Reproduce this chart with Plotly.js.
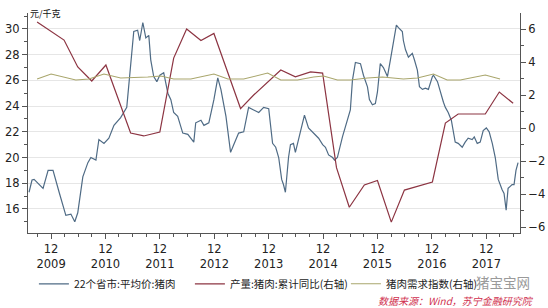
<!DOCTYPE html>
<html>
<head>
<meta charset="utf-8">
<script src="https://cdn.plot.ly/plotly-3.0.1.min.js"></script>
<style>html,body{margin:0;padding:0;background:#fff;}#chart{width:548px;height:308px;}</style>
</head>
<body>
<div id="chart"></div>
<script>
// 22个省市:平均价:猪肉 (左轴, 元/千克)
const priceDates = ["2009-07-06","2009-07-26","2009-08-09","2009-10-08","2009-11-11","2009-12-14","2010-01-24","2010-03-10","2010-04-13","2010-05-09","2010-05-29","2010-07-02","2010-08-05","2010-08-25","2010-09-28","2010-10-18","2010-11-21","2010-12-24","2011-01-27","2011-03-13","2011-04-23","2011-05-19","2011-06-09","2011-07-05","2011-07-19","2011-08-09","2011-08-29","2011-09-18","2011-10-01","2011-10-21","2011-11-11","2011-12-01","2011-12-27","2012-01-24","2012-02-13","2012-03-03","2012-03-30","2012-05-03","2012-06-06","2012-07-16","2012-07-29","2012-09-02","2012-09-22","2012-10-25","2012-11-28","2012-12-24","2013-01-14","2013-02-17","2013-03-20","2013-04-10","2013-05-13","2013-06-16","2013-07-19","2013-08-22","2013-09-25","2013-10-28","2013-12-01","2013-12-27","2014-01-17","2014-02-06","2014-02-26","2014-03-10","2014-03-23","2014-04-13","2014-04-26","2014-05-16","2014-05-29","2014-06-19","2014-07-15","2014-07-29","2014-08-25","2014-09-28","2014-11-01","2014-11-28","2014-12-17","2015-01-07","2015-02-03","2015-02-16","2015-03-07","2015-04-10","2015-05-13","2015-06-02","2015-06-16","2015-07-06","2015-08-09","2015-08-29","2015-09-25","2015-10-08","2015-10-28","2015-11-17","2015-12-01","2015-12-20","2016-01-10","2016-02-06","2016-02-26","2016-03-17","2016-04-06","2016-04-20","2016-05-16","2016-05-23","2016-06-06","2016-06-26","2016-07-22","2016-08-05","2016-08-25","2016-09-08","2016-09-28","2016-10-18","2016-11-07","2016-12-04","2016-12-11","2017-01-07","2017-01-27","2017-02-16","2017-03-01","2017-03-20","2017-04-10","2017-04-23","2017-05-06","2017-05-26","2017-06-22","2017-07-12","2017-08-01","2017-08-28","2017-09-11","2017-10-01","2017-10-21","2017-11-10","2017-12-01","2017-12-20","2018-01-10","2018-01-30","2018-02-19","2018-03-17","2018-03-30","2018-04-13","2018-04-26","2018-05-23","2018-06-05","2018-06-18","2018-07-02"];
const priceValues = [17.3,18.25,18.3,17.6,19.0,19.0,17.3,15.5,15.6,15.0,15.7,18.5,19.6,20.0,19.8,21.4,21.1,21.5,22.5,23.1,23.9,26.9,29.8,29.9,29.1,30.5,29.3,29.5,27.6,26.3,25.9,26.4,26.6,25.0,24.5,23.5,23.2,21.9,21.8,21.2,22.7,22.9,22.5,22.7,24.5,26.2,25.3,23.2,20.4,21.0,21.9,22.0,23.9,23.7,23.5,23.9,23.8,21.1,20.8,20.0,18.3,17.9,17.3,20.0,21.0,21.1,20.4,21.4,22.5,23.3,22.3,21.9,21.5,21.0,20.8,20.2,20.0,19.8,20.0,21.6,22.9,23.7,26.0,27.4,27.3,26.4,25.5,24.5,24.1,24.2,25.1,27.3,27.0,26.3,27.6,28.9,30.3,30.1,29.8,29.1,28.4,27.8,28.1,27.6,26.8,25.5,25.3,25.4,25.3,26.3,26.4,25.9,25.0,24.3,23.9,23.5,22.9,21.9,21.2,21.1,20.8,21.2,21.5,21.4,21.6,21.1,21.2,22.1,22.3,22.0,21.1,20.0,18.3,17.5,17.2,15.9,17.6,17.9,17.9,19.0,19.6];

// 产量:猪肉:累计同比 (右轴, %)
const outputDates = ["2009-08-29","2010-02-26","2010-05-29","2010-08-31","2010-12-04","2011-05-19","2011-08-15","2011-12-01","2012-03-03","2012-05-29","2012-09-02","2012-11-28","2013-05-26","2013-08-22","2014-02-20","2014-05-29","2014-09-08","2014-11-28","2015-03-01","2015-05-26","2015-09-04","2015-12-01","2016-03-03","2016-05-30","2016-12-04","2017-03-01","2017-05-26","2017-11-24","2018-02-26","2018-05-30"];
const outputValues = [6.42,5.33,3.70,2.85,3.82,-0.30,-0.48,-0.24,4.24,6.0,5.30,5.73,1.18,2.0,3.52,3.1,3.4,3.33,-2.4,-4.8,-3.45,-3.18,-5.7,-3.76,-3.27,0.30,0.85,0.85,2.18,1.5];

// 猪肉需求指数 (右轴)
const demandDates = ["2009-08-29","2009-12-01","2010-05-16","2010-08-12","2010-11-21","2011-03-13","2011-09-11","2011-12-08","2012-03-03","2012-06-26","2012-11-28","2013-03-02","2013-06-16","2013-11-24","2014-02-20","2014-06-12","2014-09-28","2014-12-04","2015-03-07","2015-06-02","2015-09-25","2016-01-04","2016-05-23","2016-08-25","2016-12-11","2017-03-13","2017-06-09","2017-11-24","2018-03-03"];
const demandValues = [2.97,3.27,2.91,2.97,3.27,3.03,3.09,3.15,2.97,2.97,3.27,2.97,2.97,3.33,2.91,2.91,3.09,3.15,2.91,2.91,3.03,3.09,2.97,3.03,3.27,2.91,2.91,3.21,2.97];

const seriesNames = ["22个省市:平均价:猪肉","产量:猪肉:累计同比(右轴)","猪肉需求指数(右轴)"];
const years = ["2009","2010","2011","2012","2013","2014","2015","2016","2017"];
const leftTicks = [16,18,20,22,24,26,28,30];
const rightTicks = [-6,-4,-2,0,2,4,6];

const numFont = "Tahoma, 'DejaVu Sans', sans-serif";
const cjkFont = "'Noto Sans CJK SC', sans-serif";

const traces = [
  {x: priceDates, y: priceValues, name: seriesNames[0], type: "scatter", mode: "lines",
   line: {color: "#4f6b85", width: 1.2}, yaxis: "y"},
  {x: outputDates, y: outputValues, name: seriesNames[1], type: "scatter", mode: "lines",
   line: {color: "#8c3442", width: 1.2}, yaxis: "y2"},
  {x: demandDates, y: demandValues, name: seriesNames[2], type: "scatter", mode: "lines",
   line: {color: "#a9a66c", width: 1.1}, yaxis: "y2"}
];

const layout = {
  width: 548, height: 308,
  margin: {l: 28, r: 28, t: 13, b: 75, autoexpand: false},
  paper_bgcolor: "#fff", plot_bgcolor: "#fff",
  showlegend: true,
  legend: {orientation: "h", x: 0.012, xanchor: "left", y: -0.165, yanchor: "top",
           font: {family: cjkFont, size: 10.5, color: "#222"},
           entrywidth: 111, entrywidthmode: "pixels", itemwidth: 30,
           bgcolor: "rgba(0,0,0,0)"},
  xaxis: {type: "date", range: ["2009-06-29", "2018-07-15"],
          tickmode: "array", tickvals: years.map(y => y + "-12-01"),
          ticktext: years.map(y => "12<br>" + y),
          ticks: "outside", ticklen: 5, tickcolor: "#555",
          minor: {tick0: "2009-12-01", dtick: "M3", ticks: "outside", ticklen: 3, tickcolor: "#555", showgrid: false},
          showline: true, linecolor: "#555", linewidth: 1,
          showgrid: false, zeroline: false,
          tickfont: {family: numFont, size: 11.5, color: "#222"}},
  yaxis: {range: [14.13, 31.24], tickmode: "array", tickvals: leftTicks,
          ticks: "outside", ticklen: 5, tickcolor: "#555",
          minor: {dtick: 1, tick0: 0, ticks: "outside", ticklen: 3, tickcolor: "#555", showgrid: false},
          showline: true, linecolor: "#555", linewidth: 1,
          showgrid: true, gridcolor: "#e6e6e6", gridwidth: 1, zeroline: false,
          tickfont: {family: numFont, size: 11.5, color: "#222"}},
  yaxis2: {overlaying: "y", side: "right", range: [-6.36, 6.97],
           tickmode: "array", tickvals: rightTicks,
           ticks: "outside", ticklen: 5, tickcolor: "#555",
           minor: {dtick: 1, tick0: 0, ticks: "outside", ticklen: 3, tickcolor: "#555", showgrid: false},
           showline: true, linecolor: "#555", linewidth: 1,
           showgrid: false, zeroline: false,
           tickfont: {family: numFont, size: 11.5, color: "#222"}},
  annotations: [
    {text: "元/千克", xref: "paper", yref: "paper", x: 0, y: 1, xanchor: "left", yanchor: "middle",
     showarrow: false, font: {family: cjkFont, size: 9, color: "#111"}},
    {text: "猪宝宝网", xref: "paper", yref: "paper", x: 1.022, y: -0.222, xanchor: "right", yanchor: "middle",
     showarrow: false, borderpad: 0, font: {family: cjkFont, size: 13.5, color: "#9a9a9a"}},
    {text: "<i>数据来源：Wind，苏宁金融研究院</i>", xref: "paper", yref: "paper", x: 1.03, y: -0.305,
     xanchor: "right", yanchor: "middle", showarrow: false, borderpad: 0,
     font: {family: cjkFont, size: 10, color: "#d0304e"}}
  ]
};

Plotly.newPlot("chart", traces, layout, {displayModeBar: false, staticPlot: true});
</script>
</body>
</html>
